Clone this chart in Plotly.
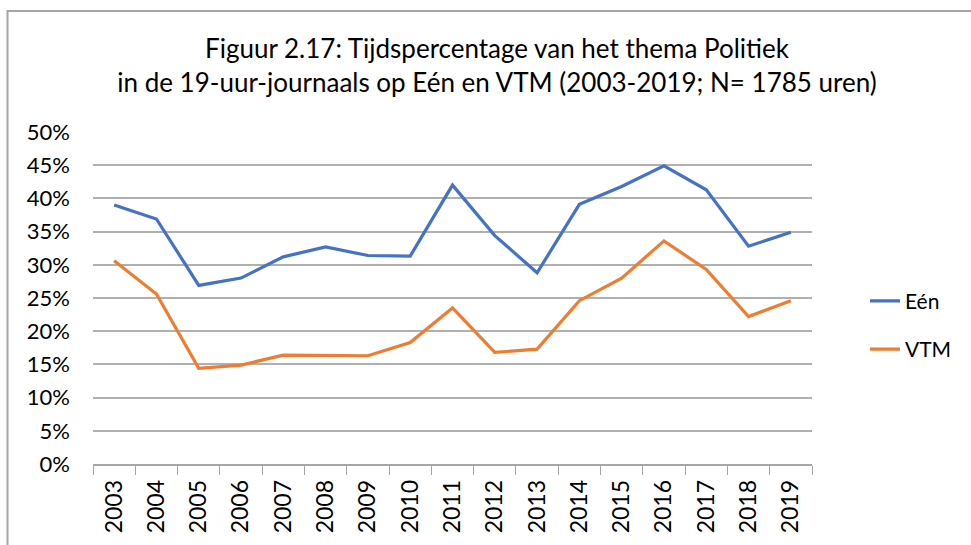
import plotly.graph_objects as go

years = [str(y) for y in range(2003, 2020)]
een = [39.0, 36.9, 26.9, 28.0, 31.2, 32.7, 31.4, 31.3, 42.0, 34.4,
       28.8, 39.1, 41.8, 44.9, 41.3, 32.8, 34.9]
vtm = [30.6, 25.6, 14.4, 14.9, 16.4, 16.4, 16.3, 18.3, 23.5, 16.8,
       17.3, 24.6, 28.0, 33.6, 29.3, 22.2, 24.6]
y_ticks = list(range(0, 51, 5))
y_labels = [f"{v}%" for v in y_ticks]

title = ("Figuur 2.17: Tijdspercentage van het thema Politiek<br>"
         "in de 19-uur-journaals op Eén en VTM (2003-2019; N= 1785 uren)")

W, H = 971, 545
L, R, T, B = 93, 159, 132, 78
pw, ph = W - L - R, H - T - B

fig = go.Figure()
fig.add_trace(go.Scatter(x=years, y=een, name="Eén", mode="lines",
                         line=dict(color="#4472C4", width=3.2),
                         legendgroup="a"))
fig.add_trace(go.Scatter(x=years, y=vtm, name="VTM", mode="lines",
                         line=dict(color="#ED7D31", width=3.2),
                         legendgroup="b"))

font_family = "Lato, 'Open Sans', sans-serif"

fig.update_layout(
    width=W, height=H,
    margin=dict(l=L, r=R, t=T, b=B),
    paper_bgcolor="white", plot_bgcolor="white",
    font=dict(family=font_family, color="#000000", size=21),
    title=dict(text=title, x=497 / W, xref="container", xanchor="center",
               y=(H - 58) / H, yanchor="middle",
               font=dict(size=26, family=font_family, color="#000000")),
    showlegend=True,
    legend=dict(x=(865 - L) / pw, y=(467 - 327) / ph, xanchor="left",
                yanchor="middle", font=dict(size=21),
                tracegroupgap=18, bgcolor="rgba(0,0,0,0)"),
    xaxis=dict(type="category", showgrid=False, showline=True,
               linecolor="#a6a6a6", linewidth=1.5,
               ticks="outside", ticklen=9, tickcolor="#a6a6a6",
               tickwidth=1.2, tickson="boundaries",
               tickangle=-90, tickfont=dict(size=23),
               ticklabelstandoff=5,
               range=[-0.5, len(years) - 0.5], fixedrange=True),
    yaxis=dict(range=[0, 50], tickvals=y_ticks, ticktext=y_labels,
               showgrid=True, gridcolor="#b0b0b0", gridwidth=1.5,
               zeroline=False, showline=False, ticks="",
               ticklabelstandoff=22, tickfont=dict(size=22),
               fixedrange=True),
    shapes=[dict(type="rect", xref="paper", yref="paper",
                 x0=(7.5 - L) / pw, x1=(990 - L) / pw,
                 y0=(467 - 560) / ph, y1=(467 - 10) / ph,
                 line=dict(color="#a6a6a6", width=2),
                 fillcolor="rgba(0,0,0,0)", layer="below")],
)

fig.write_html("out.html",
               config={"displayModeBar": False},
               post_script="document.body.style.margin='0';")
